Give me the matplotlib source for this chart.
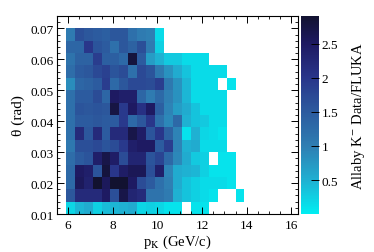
import numpy as np
import matplotlib
matplotlib.use("Agg")
import matplotlib.pyplot as plt
from matplotlib.colors import LinearSegmentedColormap
from matplotlib.ticker import MultipleLocator

plt.rcParams['font.family'] = ['Liberation Serif', 'DejaVu Serif']
plt.rcParams['mathtext.fontset'] = 'stix'

# --- data ---
N = np.nan
# momentum bin edges (GeV/c) and angle bin edges (rad)
p_edges = np.round(5.9 + 0.4 * np.arange(21), 2)
theta_edges = np.round(0.010 + 0.004 * np.arange(16), 4)

# Data/FLUKA ratio, rows from lowest theta bin to highest
row_00 = [0.2, 0.45, 0.55, 0.25, 0.4, 0.45, 0.5, 0.55, 0.2, 0.25, 0.2, 0.1, 0.1, N, 0.1, 0.1, N, N, N, N]
row_01 = [1.55, 2.2, 2.2, 2.2, 2.5, 1.65, 2.7, 2.3, 2.2, 1.15, 1.15, 1.05, 0.5, 0.35, 0.25, 0.15, 0.1, N, N, 0.1]
row_02 = [1.3, 2.55, 2.35, 2.95, 2.55, 2.9, 2.9, 2.5, 1.7, 1.5, 1.2, 1.0, 0.55, 0.35, 0.25, 0.15, 0.15, 0.15, 0.1, N]
row_03 = [1.3, 2.5, 2.4, 1.6, 2.8, 2.0, 2.45, 2.6, 2.6, 1.65, 2.4, 0.95, 0.55, 0.5, 0.45, 0.25, 0.1, 0.1, 0.1, N]
row_04 = [1.25, 1.5, 1.6, 2.4, 2.7, 2.45, 1.7, 2.3, 2.3, 1.6, 1.8, 1.3, 0.9, 0.55, 0.3, 0.25, N, 0.1, 0.1, N]
row_05 = [1.1, 1.65, 1.65, 1.75, 1.6, 1.7, 1.95, 2.4, 2.5, 2.5, 1.5, 1.9, 0.95, 0.5, 0.55, 0.15, 0.15, 0.15, N, N]
row_06 = [1.2, 2.2, 1.55, 2.2, 1.5, 2.2, 2.2, 2.7, 2.45, 1.6, 2.0, 1.4, 0.95, 0.1, 0.5, 0.2, 0.15, 0.1, N, N]
row_07 = [1.2, 1.5, 1.5, 1.55, 1.5, 1.5, 1.95, 1.3, 1.55, 2.0, 1.2, 0.9, 1.3, 0.5, 0.35, 0.3, 0.15, 0.15, N, N]
row_08 = [1.2, 1.6, 1.55, 1.6, 1.55, 2.75, 1.95, 2.5, 2.1, 2.5, 1.45, 0.95, 0.7, 0.55, 0.35, 0.15, 0.15, 0.15, N, N]
row_09 = [1.2, 1.5, 1.5, 1.7, 1.35, 2.5, 2.4, 2.4, 1.35, 1.05, 1.3, 1.0, 0.8, 0.45, 0.15, 0.15, 0.15, 0.15, N, N]
row_10 = [0.85, 1.35, 1.4, 1.5, 1.9, 1.3, 1.55, 1.75, 1.75, 1.7, 1.9, 1.1, 0.8, 0.45, 0.15, 0.15, 0.15, N, 0.1, N]
row_11 = [1.25, 1.5, 1.55, 1.75, 1.85, 1.6, 1.7, 1.2, 1.75, 1.6, 1.1, 0.8, 0.55, 0.35, 0.15, 0.15, 0.15, 0.15, N, N]
row_12 = [1.15, 1.4, 1.4, 1.9, 1.45, 1.45, 1.3, 2.8, 1.5, 0.7, 0.5, 0.3, 0.3, 0.15, 0.15, 0.15, N, N, N, N]
row_13 = [1.35, 1.35, 2.0, 1.6, 1.5, 1.2, 1.55, 1.4, 1.65, 1.05, 0.25, N, N, N, N, N, N, N, N, N]
row_14 = [1.05, 1.65, 1.55, 1.5, 1.45, 1.55, 1.55, 1.2, 1.05, 1.0, 0.15, N, N, N, N, N, N, N, N, N]

ratio = np.array([row_00, row_01, row_02, row_03, row_04, row_05, row_06, row_07,
                  row_08, row_09, row_10, row_11, row_12, row_13, row_14])
ratio = np.ma.masked_invalid(ratio)

# colour palette (cyan -> dark navy)
cmap = LinearSegmentedColormap.from_list("pal", [
    (0.00, "#00eef2"),
    (0.17, "#1fb0d2"),
    (0.34, "#2f7fb3"),
    (0.52, "#2c5a9e"),
    (0.69, "#29358a"),
    (0.86, "#1e1a62"),
    (1.00, "#121230"),
])

# --- figure ---
fig = plt.figure(figsize=(3.74, 2.53), dpi=100)
ax = fig.add_axes([0.152, 0.150, 0.645, 0.783])
cax = fig.add_axes([0.805, 0.150, 0.048, 0.783])

mesh = ax.pcolormesh(p_edges, theta_edges, ratio, cmap=cmap, vmin=0, vmax=2.91)
ax.set_xlim(5.5, 16.3)
ax.set_ylim(0.010, 0.074)

ax.xaxis.set_major_locator(MultipleLocator(2))
ax.xaxis.set_minor_locator(MultipleLocator(0.5))
ax.yaxis.set_major_locator(MultipleLocator(0.01))
ax.yaxis.set_minor_locator(MultipleLocator(0.002))
ax.tick_params(which='both', direction='in', top=True, right=True, labelsize=9.5)
ax.tick_params(which='major', length=5, width=0.7)
ax.tick_params(which='minor', length=2.5, width=0.6)
ax.tick_params(axis='y', pad=2)
ax.set_yticks([0.01, 0.02, 0.03, 0.04, 0.05, 0.06, 0.07])
ax.set_yticklabels(['0.01', '0.02', '0.03', '0.04', '0.05', '0.06', '0.07'])

ax.set_xlabel(r'p$_{\mathrm{K}}$ (GeV/c)', fontsize=10.5, labelpad=1)
ax.set_ylabel(r'θ (rad)', fontsize=11, labelpad=4)

cb = fig.colorbar(mesh, cax=cax)
cb.outline.set_visible(False)
cb.set_ticks([0.5, 1, 1.5, 2, 2.5])
cb.set_ticklabels(['0.5', '1', '1.5', '2', '2.5'])
cax.tick_params(direction='in', length=6, width=0.7, labelsize=9.5, pad=2)
cax.yaxis.set_minor_locator(MultipleLocator(0.1))
cax.tick_params(which='minor', length=0)
cb.set_label(r'Allaby K$^{-}$ Data/FLUKA', fontsize=10.5, labelpad=8)

fig.savefig("out.png", dpi=100)
